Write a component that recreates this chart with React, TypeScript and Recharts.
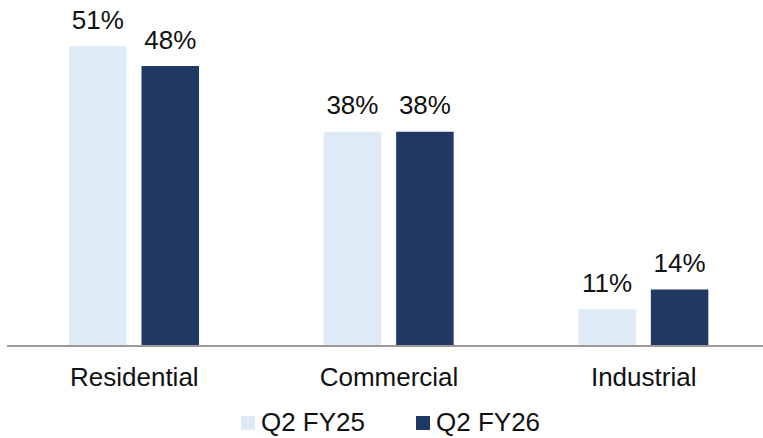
import { Bar, BarChart, LabelList, Legend, XAxis, YAxis } from "recharts";

const segments = ["Residential", "Commercial", "Industrial"];
const q2fy25 = [51, 38, 11];
const q2fy26 = [48, 38, 14];

const seriesNames = { a: "Q2 FY25", b: "Q2 FY26" };
const colors = { a: "#DEEAF6", b: "#203864" };
const font = "'Liberation Sans', Arial, sans-serif";

const data = segments.map((name, i) => ({
  name,
  a: q2fy25[i],
  b: q2fy26[i],
}));

function ChartLegend() {
  const items = [
    { key: "a", label: seriesNames.a, color: colors.a },
    { key: "b", label: seriesNames.b, color: colors.b },
  ];
  return (
    <div
      style={{
        display: "flex",
        justifyContent: "center",
        alignItems: "center",
        height: 25,
        lineHeight: "25px",
        gap: 51,
        paddingLeft: 3,
        fontFamily: font,
        fontSize: 26,
        color: "#111",
      }}
    >
      {items.map((it) => (
        <div key={it.key} style={{ display: "flex", alignItems: "center", gap: 6 }}>
          <span style={{ width: 14, height: 14, background: it.color, display: "inline-block" }} />
          <span>{it.label}</span>
        </div>
      ))}
    </div>
  );
}

export default function App() {
  return (
    <div
      style={{
        position: "fixed",
        left: 0,
        top: 0,
        width: 763,
        height: 438,
        overflow: "hidden",
        background: "#fff",
      }}
    >
      <BarChart
        width={772}
        height={438}
        data={data}
        margin={{ top: 20, right: 1, left: 7, bottom: 3 }}
        barSize={57.5}
        barGap={15}
      >
        <XAxis
          dataKey="name"
          height={64}
          tickSize={0}
          tickMargin={22}
          axisLine={{ stroke: "#9a9a9a", strokeWidth: 2 }}
          tick={{ fontSize: 26, fill: "#111", fontFamily: font }}
        />
        <YAxis hide domain={[5.4, 55]} />
        <Legend verticalAlign="bottom" content={() => <ChartLegend />} />
        <Bar dataKey="a" fill={colors.a} isAnimationActive={false}>
          <LabelList
            dataKey="a"
            position="top"
            offset={17.5}
            formatter={(v: number) => `${v}%`}
            style={{ fontSize: 26, fill: "#111", fontFamily: font }}
          />
        </Bar>
        <Bar dataKey="b" fill={colors.b} isAnimationActive={false}>
          <LabelList
            dataKey="b"
            position="top"
            offset={17.5}
            formatter={(v: number) => `${v}%`}
            style={{ fontSize: 26, fill: "#111", fontFamily: font }}
          />
        </Bar>
      </BarChart>
    </div>
  );
}
